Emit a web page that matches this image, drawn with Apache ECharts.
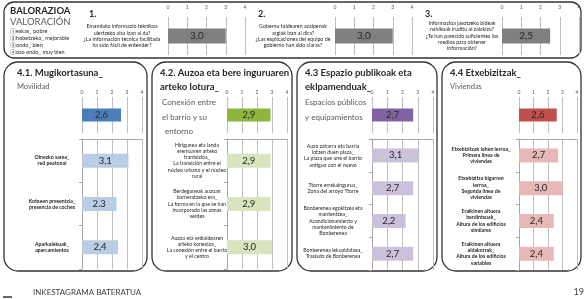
<!DOCTYPE html>
<html>
<head>
<meta charset="utf-8">
<script src="https://cdn.jsdelivr.net/npm/echarts@6/dist/echarts.min.js"></script>
<style>
html, body { margin: 0; padding: 0; background: #fff; }
#main { width: 585px; height: 299px; }
</style>
</head>
<body>
<div id="main"></div>
<script>
// --- data ---
var scaleTicks = [0, 1, 2, 3, 4];

var questionLabels = [
    'Emandako informazio teknikoa\nulertzeko aisa izan al da?\n¿La información técnica facilitada\nha sido fácil de entender?',
    'Gobernu taldearen azalpenak\nargiak izan al dira?\n¿Las explicaciones del equipo de\ngobierno han sido claras?',
    'Informazioa jasotzeko bideak\nnahikoak iruditu al zaizkizu?\n¿Te han parecido suficientes los\nmedios para obtener\ninformación?'
];
var questionValues = [3.0, 3.0, 2.5];

var mobilityTotal = [2.6];
var mobilityCats = ['Oinezko sarea_\nred peatonal', 'Kotxeen presentzia_\npresencia de coches', 'Aparkalekuak_\naparcamientos'];
var mobilityValues = [3.1, 2.3, 2.4];

var connectionTotal = [2.9];
var connectionCats = [
    'Hirigunea eta landa\neremuaren arteko\ntrantsizioa_\nLa transición entre el\nnúcleo urbano y el núcleo\nrural',
    'Berdeguneak auzoan\nbarneratzeko era_\nLa forma en la que se han\nincorporado las zonas\nverdes',
    'Auzoa eta erdialdearen\narteko konexioa_\nLa conexión entre el barrio\ny el centro'
];
var connectionValues = [2.9, 2.9, 3.0];

var publicTotal = [2.7];
var publicCats = [
    'Auzo zaharra eta barria\nlotzen duen plaza_\nLa plaza que une el barrio\nantiguo con el nuevo',
    'Ttorre errekaingurua_\nZona del arroyo Ttorre',
    'Bonberenea egokitzea eta\nmantentzea_\nAcondicionamiento y\nmantenimiento de\nBonberenea',
    'Bonberenea lekualdatzea_\nTraslado de Bonberenea'
];
var publicValues = [3.1, 2.7, 2.2, 2.7];

var housingTotal = [2.6];
var housingCats = [
    'Etxebizitzak lehen lerroa_\nPrimera línea de\nviviendas',
    'Etxebizitza bigarren\nlerroa_\nSegunda línea de\nviviendas',
    'Eraikinen altuera\nberdintsuak_\nAltura de los edificios\nsimilares',
    'Eraikinen altuera\naldakorrak_\nAltura de los edificios\nvariables'
];
var housingValues = [2.7, 3.0, 2.4, 2.4];

(function () {
    var myChart = echarts.init(document.getElementById('main'));
    var FONT = 'Lato, "Open Sans", sans-serif';

    function fmt(p) {
        // the source sheet printed one value with a point
        if (p.seriesName === 'mob-lower' && p.dataIndex === 1) return p.value.toFixed(1);
        return p.value.toFixed(1).replace('.', ',');
    }

    var grids = [], xAxes = [], yAxes = [], series = [];

    function addChart(cfg) {
        var i = grids.length;
        grids.push({ left: cfg.left, top: cfg.top, width: cfg.width, height: cfg.height });
        xAxes.push({
            gridIndex: i, type: 'value', position: 'top',
            min: scaleTicks[0], max: scaleTicks[scaleTicks.length - 1], interval: 1,
            axisLine: { show: !!cfg.topLine, lineStyle: { color: '#a6a6a6' } },
            axisTick: { show: false },
            axisLabel: { show: !!cfg.ticks, fontSize: 5, margin: cfg.tickMargin || 3, color: '#555', fontFamily: FONT },
            splitLine: { lineStyle: { color: '#bfbfbf', width: 1 } }
        });
        yAxes.push({
            gridIndex: i, type: 'category', inverse: true, data: cfg.cats,
            axisLine: { show: !!cfg.leftLine, lineStyle: { color: '#a6a6a6' } },
            axisTick: { show: !!cfg.leftLine, length: 3, lineStyle: { color: '#a6a6a6' } },
            axisLabel: {
                show: !!cfg.labelMargin, align: 'center', margin: cfg.labelMargin || 0,
                fontSize: cfg.labelSize || 5.5, lineHeight: cfg.labelLine || 6.5,
                color: '#262626', fontFamily: FONT, fontWeight: cfg.labelBold ? 'bold' : 'normal'
            }
        });
        series.push({
            name: cfg.name, type: 'bar', xAxisIndex: i, yAxisIndex: i,
            data: cfg.vals, barWidth: cfg.barWidth, itemStyle: { color: cfg.color },
            label: {
                show: true, position: 'inside', formatter: fmt,
                color: '#262626', fontSize: cfg.valueSize || 9, fontFamily: FONT
            },
            silent: true, animation: false
        });
    }

    // top questions
    var qLayout = [
        { left: 168, margin: 46 },
        { left: 335, margin: 42 },
        { left: 502, margin: 40 }
    ];
    qLayout.forEach(function (q, k) {
        addChart({
            name: 'q' + k, left: q.left, top: 17, width: 77, height: 38,
            cats: [questionLabels[k]], vals: [questionValues[k]], color: '#7f7f7f',
            ticks: true, tickMargin: 7, labelMargin: q.margin, labelSize: 5.3, labelLine: 6.3,
            barWidth: 15, valueSize: 10
        });
    });

    // four panels
    var panels = [
        { key: 'mob', left: 82, width: 60, h: 130, total: mobilityTotal, cats: mobilityCats, vals: mobilityValues, dark: '#4a7ebb', light: '#b9cde5', margin: 30, bold: true },
        { key: 'con', left: 227, width: 60, h: 130, total: connectionTotal, cats: connectionCats, vals: connectionValues, dark: '#8cb63c', light: '#d7e4bd', margin: 30 },
        { key: 'pub', left: 372, width: 61, h: 131, total: publicTotal, cats: publicCats, vals: publicValues, dark: '#8064a2', light: '#ccc1da', margin: 39 },
        { key: 'hou', left: 519, width: 58, h: 131, total: housingTotal, cats: housingCats, vals: housingValues, dark: '#c0504d', light: '#e6b9b8', margin: 38, bold: true }
    ];
    panels.forEach(function (p) {
        addChart({
            name: p.key + '-total', left: p.left, top: 97, width: p.width, height: 36,
            cats: [''], vals: p.total, color: p.dark, ticks: true, tickMargin: 2,
            barWidth: 13, valueSize: 9.5
        });
        addChart({
            name: p.key + '-lower', left: p.left, top: 139, width: p.width, height: p.h,
            cats: p.cats, vals: p.vals, color: p.light, topLine: true, leftLine: true,
            labelMargin: p.margin, labelSize: 5.2, labelLine: 6.3, labelBold: p.bold,
            barWidth: 14, valueSize: 9.5
        });
    });

    function txt(s, x, y, size, opts) {
        opts = opts || {};
        return {
            type: 'text', silent: true,
            style: {
                text: s, x: x, y: y, fill: opts.fill || '#262626',
                font: (opts.bold ? 'bold ' : '') + size + 'px ' + FONT,
                align: opts.align || 'left', verticalAlign: 'middle'
            }
        };
    }
    function box(x, y, w, h, r) {
        return {
            type: 'rect', silent: true, z: -1,
            shape: { x: x, y: y, width: w, height: h, r: r },
            style: { fill: 'none', stroke: '#333', lineWidth: 1.3 }
        };
    }

    var graphics = [
        box(4, 2, 577, 56, 10),
        box(4, 62, 143, 209, 14),
        box(152, 62, 140, 209, 14),
        box(297, 62, 140, 209, 14),
        box(442, 62, 139, 209, 14),
        txt('BALORAZIOA', 10, 11, 9.5, { bold: true }),
        txt('VALORACIÓN', 10, 22, 9.5, { fill: '#595959' }),
        txt('①eskas_ pobre', 10, 31, 5.5),
        txt('②hobetzeko_ mejorable', 10, 38, 5.5),
        txt('③ondo_ bien', 10, 45, 5.5),
        txt('④oso ondo_ muy bien', 10, 52, 5.5),
        txt('1.', 89, 14, 9, { bold: true }),
        txt('2.', 258, 14, 9, { bold: true }),
        txt('3.', 425, 14, 9, { bold: true }),
        txt('4.1. Mugikortasuna_', 17, 73, 9.5, { bold: true }),
        txt('Movilidad', 17, 87, 7.5, { fill: '#595959' }),
        txt('4.2. Auzoa eta bere inguruaren', 160, 73, 9.5, { bold: true }),
        txt('arteko lotura_', 160, 87, 9.5, { bold: true }),
        txt('Conexión entre', 162, 102, 8, { fill: '#595959' }),
        txt('el barrio y su', 162, 117, 8, { fill: '#595959' }),
        txt('entorno', 165, 131, 8, { fill: '#595959' }),
        txt('4.3 Espazio publikoak eta', 305, 73, 9.5, { bold: true }),
        txt('eklpamenduak_', 305, 87, 9.5, { bold: true }),
        txt('Espacios públicos', 305, 102, 8, { fill: '#595959' }),
        txt('y equipamientos', 305, 117, 8, { fill: '#595959' }),
        txt('4.4 Etxebizitzak_', 450, 73, 9.5, { bold: true }),
        txt('Viviendas', 450, 87, 7.5, { fill: '#595959' }),
        txt('INKESTAGRAMA BATERATUA', 33, 292, 8, { fill: '#404040' }),
        txt('19', 584, 292, 9, { fill: '#404040', align: 'right' }),
        { type: 'line', silent: true, shape: { x1: 3, y1: 297, x2: 12, y2: 297 }, style: { stroke: '#333', lineWidth: 1.5 } }
    ];

    option = {
        backgroundColor: '#fff',
        animation: false,
        grid: grids,
        xAxis: xAxes,
        yAxis: yAxes,
        series: series,
        graphic: { elements: graphics }
    };

    myChart.setOption(option);

    window.addEventListener('resize', function () {
        myChart.resize();
    });
})();
</script>
</body>
</html>
